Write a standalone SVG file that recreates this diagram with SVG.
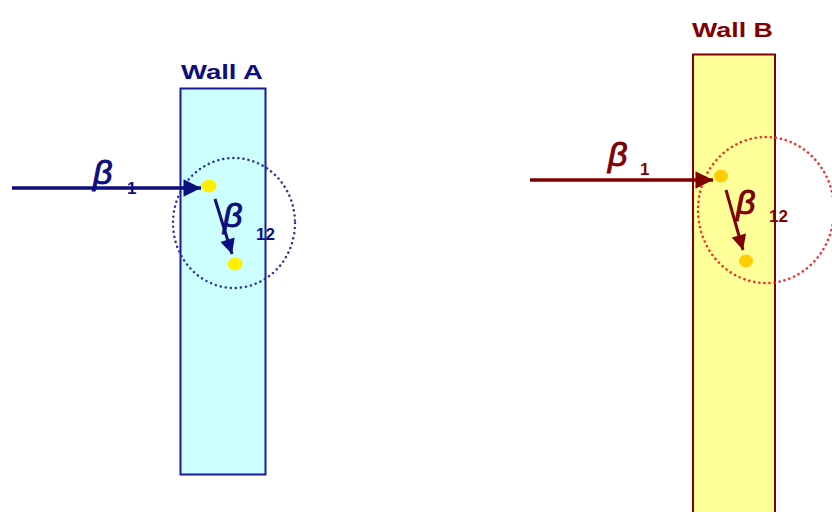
<svg xmlns="http://www.w3.org/2000/svg" width="832" height="512" viewBox="0 0 832 512">
<defs>
<style>
.lbl{font-family:"Liberation Sans",Arial,sans-serif;font-weight:bold;font-size:21px}
.beta{font-family:"Liberation Sans",Arial,sans-serif;font-style:italic;font-size:34px;stroke-width:1;}
.sub{font-family:"Liberation Sans",Arial,sans-serif;font-weight:bold;font-size:17px}
.a{fill:#0d0d80}
.b{fill:#800000}
.beta.a{stroke:#0d0d80}
.beta.b{stroke:#800000}
</style>
<marker id="ma" viewBox="0 0 10 10" refX="10" refY="5" markerWidth="6" markerHeight="5" markerUnits="strokeWidth" orient="auto"><path d="M0,0 L10,5 L0,10 Z" fill="#0d0d80"/></marker>
<marker id="mb" viewBox="0 0 10 10" refX="10" refY="5" markerWidth="6" markerHeight="5" markerUnits="strokeWidth" orient="auto"><path d="M0,0 L10,5 L0,10 Z" fill="#800000"/></marker>
</defs>
<rect width="832" height="512" fill="#ffffff"/>
<g id="wallA">
<rect x="180.5" y="88.5" width="85" height="386" fill="#ccffff" stroke="#1a1a99" stroke-width="2"/>
<text class="lbl a" x="181" y="79" textLength="82" lengthAdjust="spacingAndGlyphs">Wall A</text>
</g>
<g id="wallB">
<rect x="693" y="54.5" width="82" height="460" fill="#ffff99" stroke="#800000" stroke-width="2"/>
<text class="lbl b" x="692" y="37" textLength="81" lengthAdjust="spacingAndGlyphs">Wall B</text>
</g>
<g id="circleA">
<ellipse cx="234" cy="223" rx="61" ry="65" fill="none" stroke="#333399" stroke-width="2.5" stroke-dasharray="0.1 5" stroke-linecap="round"/>
</g>
<g id="circleB">
<ellipse cx="766" cy="210" rx="68" ry="73" fill="none" stroke="#ff2222" stroke-width="2.5" stroke-dasharray="0.1 5" stroke-linecap="round"/>
</g>
<g id="dotsA" fill="#ffee00">
<ellipse cx="209" cy="186" rx="7.5" ry="6.5"/>
<ellipse cx="235" cy="264" rx="7.5" ry="6.5"/>
</g>
<g id="dotsB" fill="#ffcc00">
<ellipse cx="721" cy="176" rx="7" ry="6.5"/>
<ellipse cx="746" cy="261" rx="7" ry="6.5"/>
</g>
<g id="connectors">
<line x1="12" y1="188" x2="201" y2="188" stroke="#0d0d80" stroke-width="3.5" marker-end="url(#ma)"/>
<line x1="215" y1="199" x2="232" y2="254" stroke="#0d0d80" stroke-width="3" marker-end="url(#ma)"/>
<line x1="530" y1="180" x2="713" y2="180" stroke="#800000" stroke-width="3.5" marker-end="url(#mb)"/>
<line x1="726" y1="190" x2="743" y2="250" stroke="#800000" stroke-width="3" marker-end="url(#mb)"/>
</g>
<g id="labelsA">
<text class="beta a" x="93" y="184">β</text>
<text class="sub a" x="127" y="194">1</text>
<text class="beta a" x="223" y="227">β</text>
<text class="sub a" x="256" y="240">12</text>
</g>
<g id="labelsB">
<text class="beta b" x="608" y="166">β</text>
<text class="sub b" x="640" y="175">1</text>
<text class="beta b" x="736" y="214">β</text>
<text class="sub b" x="769" y="222">12</text>
</g>
</svg>
